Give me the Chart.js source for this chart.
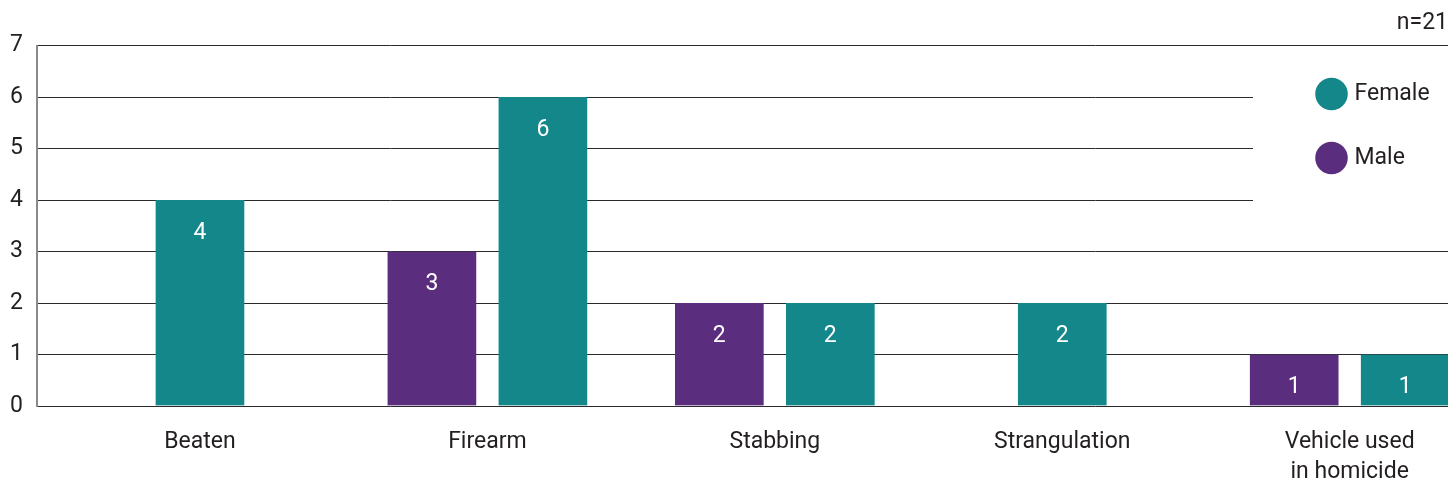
<!DOCTYPE html>
<html>
<head>
<meta charset="utf-8">
<script src="https://cdn.jsdelivr.net/npm/chart.js@4.4.1/dist/chart.umd.min.js"></script>
<style>
  html, body { margin: 0; padding: 0; background: #fff; overflow: hidden; }
  #wrap { position: relative; width: 1448px; height: 483px; }
</style>
</head>
<body>
<div id="wrap"><canvas id="homicide-chart"></canvas></div>
<script>
var categories = ['Beaten', 'Firearm', 'Stabbing', 'Strangulation', ['Vehicle used', 'in homicide']];
var maleValues = [null, 3, 2, null, 1];
var femaleValues = [4, 6, 2, 2, 1];
var yTicks = [0, 1, 2, 3, 4, 5, 6, 7];
var sampleNote = 'n=21';

var teal = 'rgb(20, 135, 138)';
var purple = 'rgb(91, 45, 126)';
var textColor = '#231f20';
var fontFamily = "'Liberation Sans Narrow', 'Roboto', sans-serif";

// white box behind the legend, then legend drawn again on top of it
var legendBackground = {
    id: 'legendBackground',
    afterLayout: function (chart) {
        var lg = chart.legend;
        lg.left = 1279;
        lg.right = 1448;
        lg.top = 41.5;
        lg.bottom = chart.chartArea.bottom;
        lg.width = lg.right - lg.left;
        lg.height = lg.bottom - lg.top;
    },
    beforeDatasetsDraw: function (chart) {
        var ctx = chart.ctx;
        ctx.save();
        ctx.fillStyle = '#fff';
        ctx.fillRect(1253, 48, 200, 201);
        ctx.restore();
        chart.legend.draw();
    }
};

var valueLabels = {
    id: 'valueLabels',
    afterDatasetsDraw: function (chart) {
        var ctx = chart.ctx;
        ctx.save();
        ctx.fillStyle = '#fff';
        ctx.font = '23px ' + fontFamily;
        ctx.textAlign = 'center';
        ctx.textBaseline = 'middle';
        chart.data.datasets.forEach(function (ds, i) {
            var meta = chart.getDatasetMeta(i);
            meta.data.forEach(function (bar, j) {
                var v = ds.data[j];
                if (v === null || v === undefined) return;
                ctx.fillText(String(v), bar.x, bar.y + 33);
            });
        });
        ctx.restore();
    }
};

var config = {
    type: 'bar',
    data: {
        labels: categories.map(function (c, i) { return i; }),
        datasets: [{
            label: 'Male',
            data: maleValues,
            backgroundColor: purple,
            borderColor: 'rgba(0,0,0,0)',
            borderWidth: { left: 11.5, right: 11.5, top: 0, bottom: 0 },
            borderSkipped: false
        }, {
            label: 'Female',
            data: femaleValues,
            backgroundColor: teal,
            borderColor: 'rgba(0,0,0,0)',
            borderWidth: { left: 11.5, right: 11.5, top: 0, bottom: 0 },
            borderSkipped: false
        }]
    },
    options: {
        responsive: true,
        maintainAspectRatio: false,
        animation: false,
        skipNull: true,
        barThickness: 111,
        layout: { padding: { top: 0, right: 0, bottom: 0, left: 0 } },
        plugins: {
            title: {
                display: true,
                text: sampleNote,
                align: 'end',
                color: textColor,
                font: { family: fontFamily, size: 23, weight: 'normal' },
                padding: { top: 9, bottom: 9 }
            },
            legend: {
                position: 'chartArea',
                align: 'start',
                reverse: true,
                labels: {
                    usePointStyle: true,
                    pointStyle: 'circle',
                    padding: 41,
                    color: textColor,
                    font: { family: fontFamily, size: 23 }
                }
            },
            tooltip: { enabled: false }
        },
        scales: {
            x: {
                type: 'linear',
                min: -0.567,
                max: 4.342,
                bounds: 'data',
                offset: false,
                grid: { display: false, drawTicks: false, offset: false },
                border: { display: false },
                ticks: {
                    autoSkip: false,
                    maxRotation: 0,
                    padding: 22,
                    color: textColor,
                    font: { family: fontFamily, size: 23, lineHeight: 1.27 },
                    callback: function (value) {
                        return Number.isInteger(value) ? categories[value] : '';
                    }
                },
                afterBuildTicks: function (scale) {
                    scale.ticks = categories.map(function (c, i) { return { value: i }; });
                },
                afterFit: function (scale) { scale.height = 77; }
            },
            y: {
                min: yTicks[0],
                max: yTicks[yTicks.length - 1],
                grid: { color: '#2b2b2b', lineWidth: 1, drawTicks: false },
                border: { display: true, color: '#8a8a8a', width: 2 },
                ticks: {
                    stepSize: 1,
                    padding: 14,
                    color: textColor,
                    font: { family: fontFamily, size: 23 }
                },
                afterFit: function (scale) { scale.width = 37; }
            }
        }
    },
    plugins: [legendBackground, valueLabels]
};

window.onload = function () {
    var ctx = document.getElementById('homicide-chart').getContext('2d');
    window.homicideChart = new Chart(ctx, config);
};
</script>
</body>
</html>
